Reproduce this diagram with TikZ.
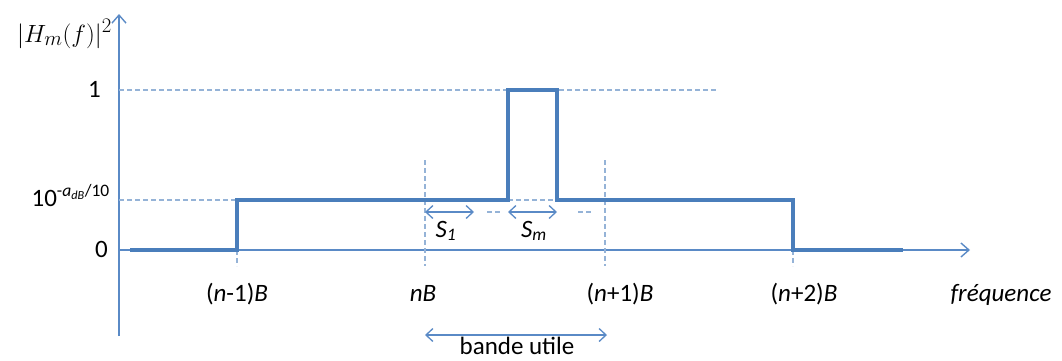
\documentclass[tikz,border=0pt]{standalone}
\usepackage{fontspec}
\setmainfont{Carlito}
\usetikzlibrary{arrows.meta}
\definecolor{axisblue}{HTML}{5A8AC6}
\definecolor{sigblue}{HTML}{4A7EBB}
\definecolor{dashblue}{HTML}{95B3D7}
\tikzset{
  axisline/.style={draw=axisblue, line width=1.4pt},
  signal/.style={draw=sigblue, line width=3.8pt, line join=miter},
  guide/.style={draw=dashblue, line width=1.3pt, dash pattern=on 5pt off 3pt},
  meas/.style={draw=axisblue, line width=1.3pt, {Straight Barb[length=7pt,width=13pt]}-{Straight Barb[length=7pt,width=13pt]}},
  lbl/.style={inner sep=0pt, font=\fontsize{25}{30}\selectfont},
  tip/.style={-{Straight Barb[length=8pt,width=14pt]}}
}
\begin{document}
\begin{tikzpicture}[x=1pt,y=-1pt]
\useasboundingbox (0,0) rectangle (1062,360);
% axes
\coordinate (ybot) at (119,336);
\coordinate (ytop) at (119,14);
\coordinate (xorg) at (119,250);
\coordinate (xend) at (970,250);
\draw[axisline, tip] (ybot) -- (ytop);
\draw[axisline, tip] (xorg) -- (xend);
% guides
\coordinate (g1a) at (119,90);   \coordinate (g1b) at (718,90);
\coordinate (g2a) at (119,200);
\coordinate (p0) at (130,250);
\coordinate (p1) at (237,250);
\coordinate (p2) at (237,200);
\coordinate (p3) at (508,200);
\coordinate (p4) at (508,90);
\coordinate (p5) at (557,90);
\coordinate (p6) at (557,200);
\coordinate (p7) at (793,200);
\coordinate (p8) at (793,250);
\coordinate (p9) at (903,250);
\draw[guide] (g1a) -- (g1b);
\draw[guide] (g2a) -- (p2);
\draw[guide] (p3) -- (p6);
\coordinate (t1) at (237,266);
\coordinate (nBtop) at (425,160); \coordinate (nBbot) at (425,266);
\coordinate (n1top) at (605,160); \coordinate (n1bot) at (605,266);
\coordinate (t4) at (793,266);
\draw[guide] (p1) -- (t1);
\draw[guide] (nBtop) -- (nBbot);
\draw[guide] (n1top) -- (n1bot);
\draw[guide] (p8) -- (t4);
% signal
\draw[signal] (p0) -- (p1) -- (p2) -- (p3) -- (p4) -- (p5) -- (p6) -- (p7) -- (p8) -- (p9);
% S arrows
\coordinate (s1a) at (425,212); \coordinate (s1b) at (474,212);
\coordinate (sma) at (508,212); \coordinate (smb) at (557,212);
\draw[meas] (s1a) -- (s1b);
\draw[meas] (sma) -- (smb);
\coordinate (d1a) at (487,212); \coordinate (d1b) at (500,212);
\coordinate (d2a) at (578,212); \coordinate (d2b) at (593,212);
\draw[guide] (d1a) -- (d1b);
\draw[guide] (d2a) -- (d2b);
\node[lbl, anchor=base] (S1) at (446,237) {\textit{S}\textsubscript{\textit{1}}};
\node[lbl, anchor=base] (Sm) at (534,237) {\textit{S}\textsubscript{\textit{m}}};
% bande utile
\coordinate (bua) at (425,335); \coordinate (bub) at (607,335);
\draw[meas] (bua) -- (bub);
\node[lbl, anchor=base] (bu) at (517,354) {bande utile};
% x tick labels
\node[lbl, anchor=base] (lx1) at (237,301) {(\textit{n}-1)\textit{B}};
\node[lbl, anchor=base] (lx2) at (423,301) {\textit{nB}};
\node[lbl, anchor=base] (lx3) at (620,301) {(\textit{n}+1)\textit{B}};
\node[lbl, anchor=base] (lx4) at (804,301) {(\textit{n}+2)\textit{B}};
\node[lbl, anchor=base] (lx5) at (1001,301) {\textit{fréquence}};
% y labels
\node[lbl, anchor=base east, font=\fontsize{29}{34}\selectfont] (ly0) at (112,42) {$|H_m(f)|^2$};
\node[lbl, anchor=base east] (ly1) at (101,97) {1};
\node[lbl, anchor=base east] (ly2) at (110,206) {10\textsuperscript{-\textit{a}\textsubscript{\textit{dB}}/10}};
\node[lbl, anchor=base east] (ly3) at (108,257) {0};
\end{tikzpicture}
\end{document}
